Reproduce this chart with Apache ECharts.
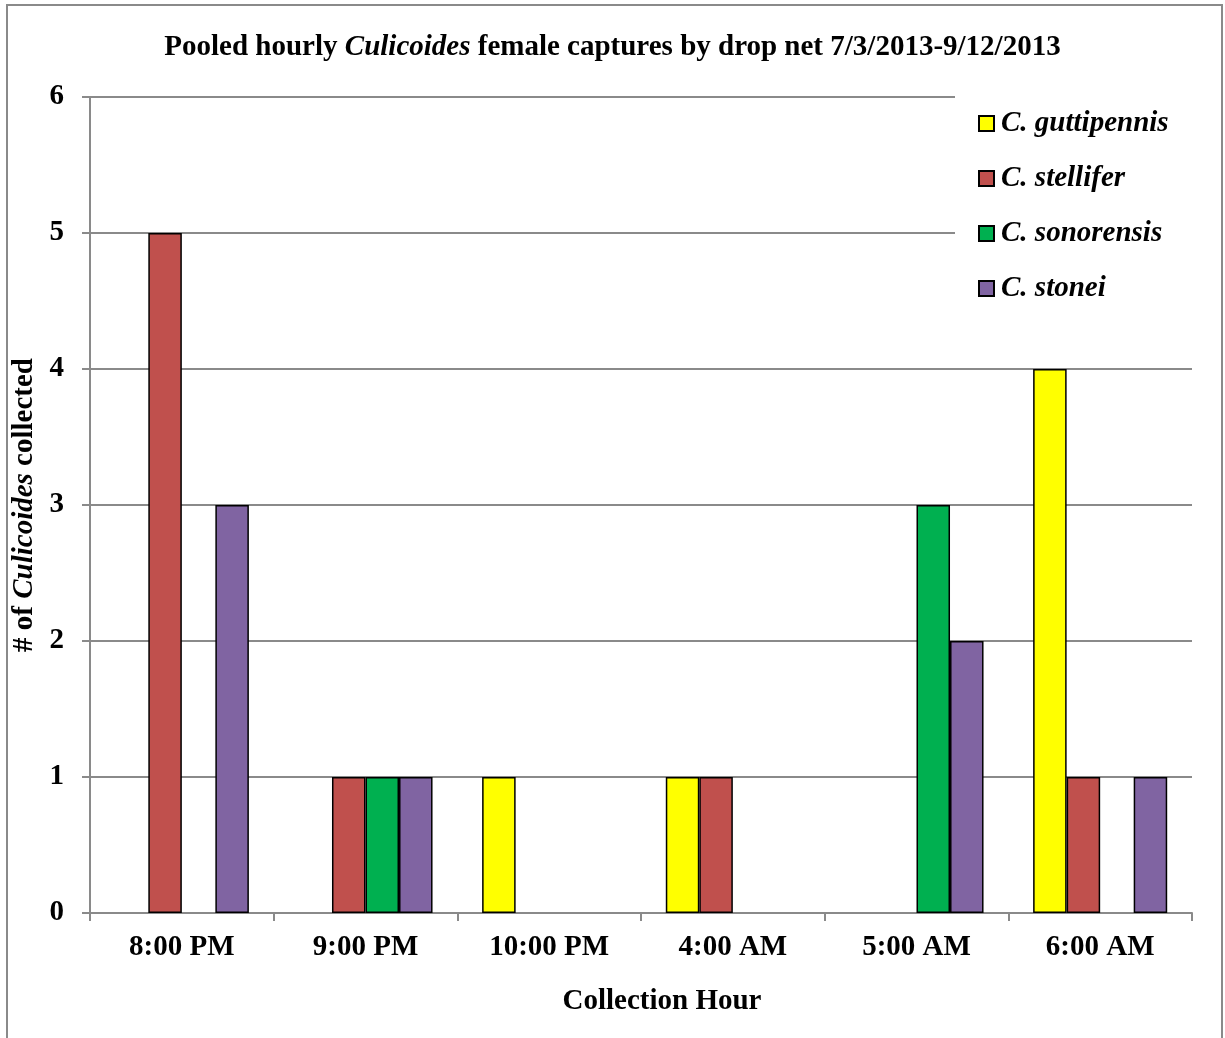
<!DOCTYPE html>
<html><head><meta charset="utf-8">
<script src="https://cdn.jsdelivr.net/npm/echarts@6/dist/echarts.min.js"></script>
<style>html,body{margin:0;padding:0;background:#fff}#c{width:1225px;height:1038px}</style>
</head><body><div id="c"></div>
<script>
const categories = ['8:00 PM','9:00 PM','10:00 PM','4:00 AM','5:00 AM','6:00 AM'];
const seriesNames = ['C. guttipennis','C. stellifer','C. sonorensis','C. stonei'];
const guttipennis = [0,0,1,1,0,4];
const stellifer   = [5,1,0,1,0,1];
const sonorensis  = [0,1,0,0,3,0];
const stonei      = [3,1,0,0,2,1];
const yTicks = [0,1,2,3,4,5,6];
const colors = ['#FFFF00','#C0504D','#00B050','#8064A2'];

const FONT = '"Liberation Serif","Times New Roman",serif';
const FS = 29;
const allData = [guttipennis, stellifer, sonorensis, stonei];
const chart = echarts.init(document.getElementById('c'));
chart.setOption({
  animation:false,
  backgroundColor:'#fff',
  textStyle:{fontFamily:FONT},
  title:[{
    text:'{b|Pooled hourly }{i|Culicoides}{b| female captures by drop net 7/3/2013-9/12/2013}',
    left:'center', top:28,
    textStyle:{rich:{
      b:{fontFamily:FONT,fontWeight:'bold',fontSize:FS,color:'#000'},
      i:{fontFamily:FONT,fontWeight:'bold',fontStyle:'italic',fontSize:FS,color:'#000'}
    }}
  },{
    text:'Collection Hour', left:657, top:982, textAlign:'center',
    textStyle:{fontFamily:FONT,fontWeight:'bold',fontSize:FS,color:'#000'}
  }],
  graphic:[{type:'rect',shape:{x:7,y:5,width:1215,height:1100},style:{fill:'none',stroke:'#8a8a8a',lineWidth:2},silent:true,z:-1}],
  legend:{
    orient:'vertical', left:955, top:95,
    padding:[14,40,20,23], itemGap:26,
    backgroundColor:'#fff',
    itemWidth:15, itemHeight:15,
    data:seriesNames.map(n=>({name:n,icon:'rect'})),
    textStyle:{fontFamily:FONT,fontWeight:'bold',fontStyle:'italic',fontSize:FS,color:'#000',padding:[0,0,0,2]},
    z:10
  },
  grid:{left:90,right:33,top:97,bottom:125,containLabel:false},
  xAxis:{
    type:'category', data:categories,
    axisLine:{lineStyle:{color:'#8a8a8a',width:2}},
    axisTick:{show:true,length:8,lineStyle:{color:'#8a8a8a',width:2}},
    axisLabel:{fontFamily:FONT,fontWeight:'bold',fontSize:FS,color:'#000',margin:20}
  },
  yAxis:{
    type:'value', min:0, max:6, interval:1,
    name:'{b|# of }{i|Culicoides}{b| collected}',
    nameLocation:'middle', nameRotate:90, nameGap:41,
    nameTextStyle:{rich:{
      b:{fontFamily:FONT,fontWeight:'bold',fontSize:FS,color:'#000'},
      i:{fontFamily:FONT,fontWeight:'bold',fontStyle:'italic',fontSize:FS,color:'#000'}
    }},
    axisLine:{show:true,lineStyle:{color:'#8a8a8a',width:2}},
    axisTick:{show:true,length:8,lineStyle:{color:'#8a8a8a',width:2}},
    axisLabel:{fontFamily:FONT,fontWeight:'bold',fontSize:FS,color:'#000',margin:26,
      formatter:v=>yTicks.includes(v)?String(v):''},
    splitLine:{lineStyle:{color:'#8a8a8a',width:2}}
  },
  series:seriesNames.map((n,i)=>({
    name:n, type:'bar',
    data:allData[i].map(v=>v===0?'-':v),
    barGap:'0%', barCategoryGap:'27%',
    itemStyle:{color:colors[i],borderColor:'#000',borderWidth:1.5},
    z:2
  }))
});
</script></body></html>
